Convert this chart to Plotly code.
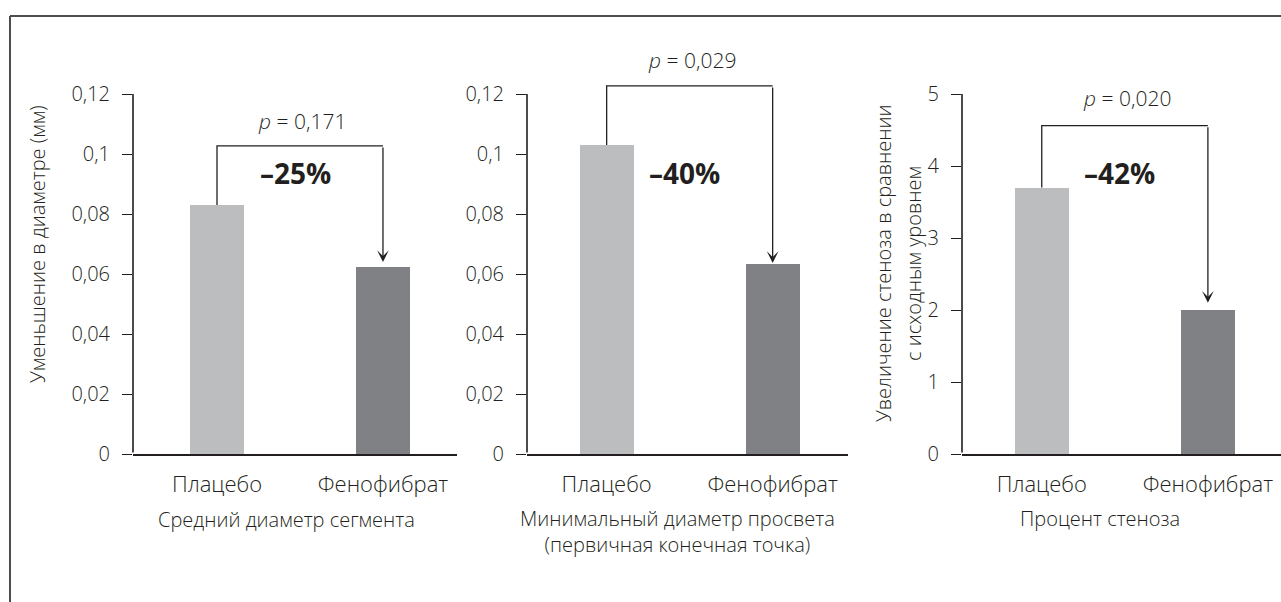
import plotly.graph_objects as go

# ---------------- data ----------------
categories = ["Плацебо", "Фенофибрат"]
seg_diameter = [0.083, 0.0625]          # Средний диаметр сегмента
min_lumen = [0.103, 0.0635]             # Минимальный диаметр просвета
stenosis = [3.7, 2.0]                   # Процент стеноза

ytick_vals_mm = [0, 0.02, 0.04, 0.06, 0.08, 0.1, 0.12]
ytick_text_mm = ["0", "0,02", "0,04", "0,06", "0,08", "0,1", "0,12"]
ytick_vals_pct = [0, 1, 2, 3, 4, 5]
ytick_text_pct = ["0", "1", "2", "3", "4", "5"]

p_values = ["0,171", "0,029", "0,020"]
reductions = ["–25%", "–40%", "–42%"]
bracket_level = [0.1027, 0.1227, 4.56]
arrow_tip = [0.064, 0.0637, 2.10]

subtitles = ["Средний диаметр сегмента",
             "Минимальный диаметр просвета<br>(первичная конечная точка)",
             "Процент стеноза"]
ytitle_1 = "Уменьшение в диаметре (мм)"
ytitle_3 = ["Увеличение стеноза в сравнении", "с исходным уровнем"]

# ---------------- style ----------------
W, H = 1281, 602
FONT = "Open Sans, Noto Sans, DejaVu Sans, sans-serif"
TXT = "#231f20"
LINE = "#231f20"
BAR_COLORS = ["#bcbdbf", "#808184"]
BAR_W = 0.325


def py(pix):
    return 1 - pix / H


series = [seg_diameter, min_lumen, stenosis]
x_domains = [[133 / W, 457 / W], [527 / W, 848 / W], [962 / W, 1.0]]
x_ranges = [[-0.506, 1.446], [-0.48, 1.454], [-0.48, 1.44]]
y_dom = [py(454), py(40)]
y_ranges = [[0, 0.138], [0, 0.138], [0, 5.75]]
y_ticks = [(ytick_vals_mm, ytick_text_mm), (ytick_vals_mm, ytick_text_mm),
           (ytick_vals_pct, ytick_text_pct)]
p_pos = [(0.512, 0.111), (0.514, 0.1313), (0.514, 4.94)]
pct_pos = [(0.47, 0.0937), (0.466, 0.0937), (0.466, 3.90)]
sub_pos = [(286 / W, py(519)), (677 / W, py(531)), (1100 / W, py(518))]

fig = go.Figure()
annotations = []
shapes = []
layout_axes = {}

for i in range(3):
    n = "" if i == 0 else str(i + 1)
    xa, ya = "x" + n, "y" + n
    vals = series[i]
    fig.add_trace(go.Bar(
        x=[0, 1], y=vals, width=BAR_W, marker=dict(color=BAR_COLORS, line=dict(width=0)),
        xaxis=xa, yaxis=ya, showlegend=False, hoverinfo="skip"))

    layout_axes["xaxis" + n] = dict(
        domain=x_domains[i], range=x_ranges[i], anchor=ya,
        showline=True, linecolor=LINE, linewidth=1.6,
        tickvals=[0, 1], ticktext=categories, ticks="",
        tickfont=dict(size=22, color=TXT, family=FONT, weight=300),
        ticklabelstandoff=10, automargin=False,
        showgrid=False, zeroline=False, fixedrange=True)
    layout_axes["yaxis" + n] = dict(
        domain=y_dom, range=y_ranges[i], anchor=xa,
        showline=False, tickvals=y_ticks[i][0], ticktext=y_ticks[i][1],
        ticks="outside", ticklen=10, tickwidth=1.3, tickcolor=LINE,
        tickfont=dict(size=20, color=TXT, family=FONT, weight=300),
        ticklabelstandoff=8, automargin=False,
        showgrid=False, zeroline=False, fixedrange=True)

    # y-axis line (only up to the top tick)
    top_tick = y_ticks[i][0][-1]
    annotations.append(dict(
        xref=xa, yref=ya, axref=xa, ayref=ya,
        x=x_ranges[i][0], y=top_tick, ax=x_ranges[i][0], ay=0,
        text="", showarrow=True, arrowhead=0, arrowwidth=1.6, arrowcolor=LINE,
        standoff=0, startstandoff=0))

    # bracket
    shapes.append(dict(
        type="path", xref=xa, yref=ya,
        path=f"M 0,{vals[0]} L 0,{bracket_level[i]} L 1,{bracket_level[i]}",
        line=dict(color=LINE, width=1.3)))
    annotations.append(dict(
        xref=xa, yref=ya, axref=xa, ayref=ya,
        x=1, y=arrow_tip[i], ax=1, ay=bracket_level[i],
        text="", showarrow=True, arrowhead=3, arrowsize=1.5, arrowwidth=1.3,
        arrowcolor=LINE, standoff=0, startstandoff=0))

    # p value
    annotations.append(dict(
        xref=xa, yref=ya, x=p_pos[i][0], y=p_pos[i][1],
        text=f"<i>p</i> = {p_values[i]}", showarrow=False,
        font=dict(size=21, color=TXT, family=FONT, weight=300)))
    # reduction
    annotations.append(dict(
        xref=xa, yref=ya, x=pct_pos[i][0], y=pct_pos[i][1],
        text=f"<b>{reductions[i]}</b>", showarrow=False,
        font=dict(size=28, color=TXT, family=FONT)))
    # subtitle
    annotations.append(dict(
        xref="paper", yref="paper", x=sub_pos[i][0], y=sub_pos[i][1],
        text=subtitles[i], showarrow=False, xanchor="center", yanchor="middle",
        font=dict(size=20, color=TXT, family=FONT, weight=300)))

# y titles
for xpix, ypix, txt in [(37, 244, ytitle_1), (883, 264, ytitle_3[0]), (913, 264, ytitle_3[1])]:
    annotations.append(dict(
        xref="paper", yref="paper", x=xpix / W, y=py(ypix), text=txt,
        xanchor="center", yanchor="middle",
        textangle=-90, showarrow=False,
        font=dict(size=20, color=TXT, family=FONT, weight=300)))

# outer frame (left and top)
shapes.append(dict(type="line", xref="paper", yref="paper",
                   x0=10 / W, x1=10 / W, y0=0, y1=py(16),
                   line=dict(color="#4d4d4d", width=2)))
shapes.append(dict(type="line", xref="paper", yref="paper",
                   x0=10 / W, x1=1, y0=py(16), y1=py(16),
                   line=dict(color="#4d4d4d", width=2)))

fig.update_layout(
    width=W, height=H, margin=dict(l=0, r=0, t=0, b=0),
    paper_bgcolor="white", plot_bgcolor="white",
    font=dict(family=FONT, color=TXT),
    annotations=annotations, shapes=shapes, bargap=0,
    **layout_axes)

fig.write_html("out.html", config={"displayModeBar": False})
